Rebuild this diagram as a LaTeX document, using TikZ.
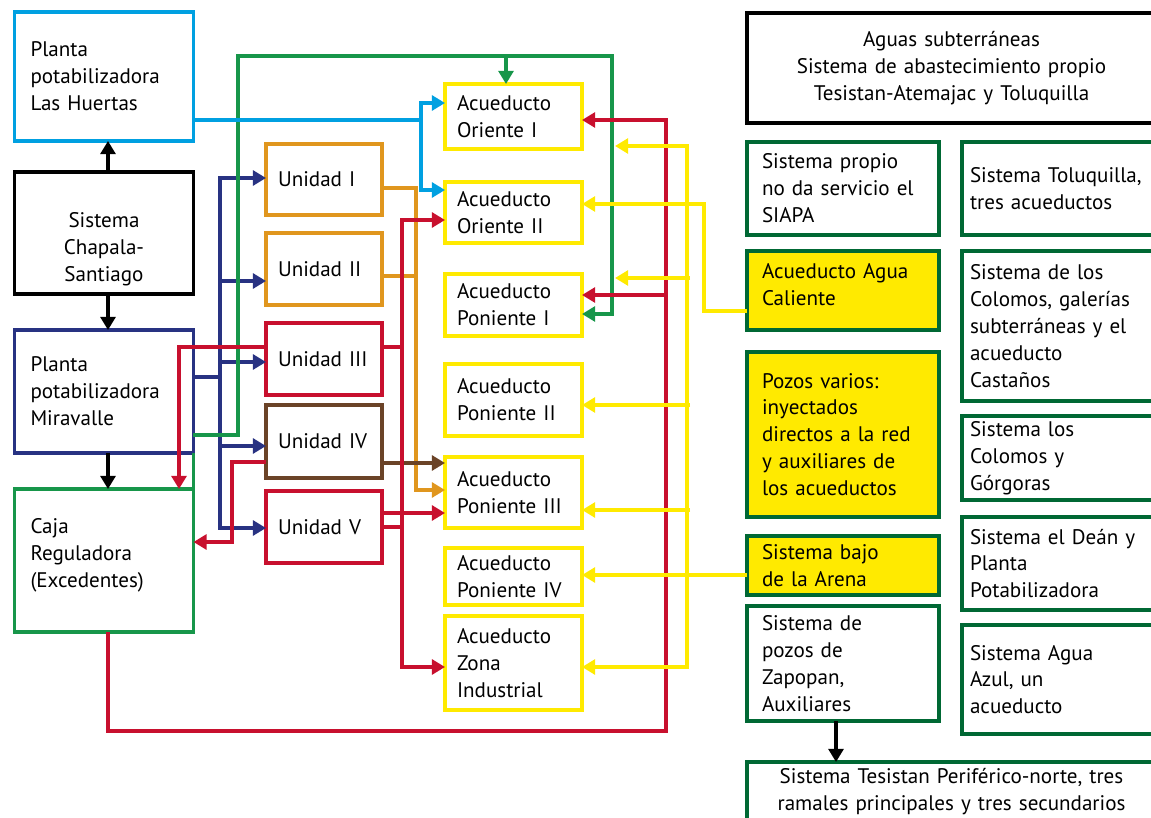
\documentclass[tikz,border=0pt]{standalone}
\usepackage{fontspec}
\setmainfont{PT Sans}
\usepackage{xcolor}
\usetikzlibrary{arrows.meta}

\definecolor{cyanH}{RGB}{0,160,225}
\definecolor{navyM}{RGB}{40,50,130}
\definecolor{greenC}{RGB}{23,150,74}
\definecolor{greenD}{RGB}{0,104,52}
\definecolor{orangeU}{RGB}{224,150,30}
\definecolor{redU}{RGB}{200,16,46}
\definecolor{brownU}{RGB}{107,67,39}
\definecolor{yellowA}{RGB}{255,234,0}

\tikzset{
  box/.style={draw, line width=2.2pt, fill=white, inner ysep=0pt, outer sep=0pt,
    align=left, font=\fontsize{12pt}{15.3pt}\selectfont},
  leftbox/.style={box, inner xsep=.32cm, text width=2.94cm, minimum height=#1},
  unitbox/.style={box, inner xsep=.24cm, text width=1.84cm, minimum height=#1},
  acuebox/.style={box, draw=yellowA, inner xsep=.24cm, text width=2.26cm, minimum height=#1},
  sysbox/.style={box, draw=greenD, inner xsep=.3cm, text width=3.24cm, minimum height=#1},
  sysboxr/.style={box, draw=greenD, inner xsep=.16cm, text width=3.64cm, minimum height=#1},
  widebox/.style={box, align=center, inner xsep=.3cm, text width=7.58cm, minimum height=#1},
  flow/.style={line width=2pt, -{Triangle[length=7.5pt,width=8.5pt]}},
  pipe/.style={line width=2pt},
}

\begin{document}
\begin{tikzpicture}[x=0.02cm, y=-0.02cm]
\useasboundingbox (0,0) rectangle (1151,817);

% plantas y caja
\node [leftbox=2.58cm, draw=cyanH] (huertas) at (104,76.5)
      {Planta\\potabilizadora\\Las Huertas};
\node [leftbox=2.44cm, draw=black, align=center] (chapala) at (104,233)
      {\mbox{}\\[11.5pt]Sistema\\Chapala-\\Santiago};
\node [leftbox=2.46cm, draw=navyM] (miravalle) at (104,391.5)
      {Planta\\potabilizadora\\Miravalle};
\node [leftbox=2.86cm, draw=greenC] (caja) at (104,560.5)
      {Caja\\Reguladora\\(Excedentes)\\[-6.6pt]\mbox{}};

% unidades
\node [unitbox=1.42cm, draw=orangeU] (u1) at (324,179.5) {Unidad I};
\node [unitbox=1.44cm, draw=orangeU] (u2) at (324,269) {Unidad II};
\node [unitbox=1.44cm, draw=redU] (u3) at (324,359) {Unidad III};
\node [unitbox=1.46cm, draw=brownU] (u4) at (324,441.5) {Unidad IV};
\node [unitbox=1.44cm, draw=redU] (u5) at (324,527) {Unidad V};

% acueductos
\node [acuebox=1.30cm] (oriente1) at (513.5,116.5) {Acueducto\\Oriente I};
\node [acuebox=1.22cm] (oriente2) at (513.5,212.5) {Acueducto\\Oriente II};
\node [acuebox=1.24cm] (poniente1) at (513.5,305) {Acueducto\\Poniente I};
\node [acuebox=1.44cm] (poniente2) at (513.5,400) {Acueducto\\Poniente II};
\node [acuebox=1.42cm] (poniente3) at (513.5,492.5) {Acueducto\\Poniente III};
\node [acuebox=1.14cm] (poniente4) at (513.5,576.5) {Acueducto\\Poniente IV};
\node [acuebox=1.88cm] (zona) at (513.5,663) {Acueducto\\Zona\\Industrial};

% aguas subterraneas
\node [widebox=2.2cm, draw=black] (aguas) at (951.5,68)
      {Aguas subterráneas\\Sistema de abastecimiento propio\\Tesistan-Atemajac y Toluquilla};
\node [sysbox=1.86cm] (propio) at (843,188.5) {Sistema propio\\no da servicio el\\SIAPA};
\node [sysbox=1.58cm, fill=yellowA] (caliente) at (843,290.5)
      {Acueducto Agua\\Caliente\\[-8.5pt]\mbox{}};
\node [sysbox=3.30cm, fill=yellowA] (pozos) at (843,434.5)
      {Pozos varios:\\inyectados\\directos a la red\\y auxiliares de\\los acueductos};
\node [sysbox=1.18cm, fill=yellowA] (arena) at (843,565.5) {Sistema bajo\\de la Arena};
\node [sysbox=2.30cm] (zapopan) at (843,663.5) {Sistema de\\pozos de\\Zapopan,\\Auxiliares};
\node [sysboxr=1.86cm] (toluquilla) at (1061,188.5) {Sistema Toluquilla,\\tres acueductos};
\node [sysboxr=3.0cm] (galerias) at (1061,326)
      {Sistema de los\\Colomos, galerías\\subterráneas y el\\acueducto\\Castaños};
\node [sysboxr=1.68cm] (gorgoras) at (1061,458) {Sistema los\\Colomos y\\Górgoras};
\node [sysboxr=1.86cm] (dean) at (1061,563.5) {Sistema el Deán y\\Planta\\Potabilizadora};
\node [sysboxr=2.18cm] (azul) at (1061,679.5) {Sistema Agua\\Azul, un\\acueducto};
\node [widebox=1.2cm, draw=greenD] (tesistan) at (951.5,792)
      {Sistema Tesistan Periférico-norte, tres\\ramales principales y tres secundarios};

% flechas negras
\draw [flow] (chapala.north -| 108,0) -- (huertas.south -| 108,0);
\draw [flow] (chapala.south -| 108,0) -- (miravalle.north -| 108,0);
\draw [flow] (miravalle.south -| 108,0) -- (caja.north -| 108,0);
\draw [flow] (zapopan.south -| 836,0) -- (tesistan.north -| 836,0);

% Miravalle a las unidades
\draw [flow, navyM] (miravalle.east |- 0,377) -| (220,178) -- (u1.west |- 0,178);
\draw [flow, navyM] (220,377) |- (u5.west |- 0,528);
\foreach \u/\y in {u2/281, u3/362, u4/446}
  \draw [flow, navyM] (220,\y) -- (\u.west |- 0,\y);

% caja reguladora
\draw [pipe, greenC] (caja.north east) -- (miravalle.south -| caja.north east);
\draw [flow, greenC] (miravalle.east |- 0,435) -| (238,56) -| (612,314)
      -- (poniente1.east |- 0,314);
\coordinate (gfork) at (506,56);
\draw [flow, greenC] (gfork) -- (oriente1.north -| 506,0);

% unidades a acueductos
\draw [flow, orangeU] (u1.east |- 0,188) -| (416,490) -- (poniente3.west |- 0,490);
\draw [pipe, orangeU] (u2.east |- 0,276) -- (416,276);
\draw [flow, brownU] (u4.east |- 0,463) -- (poniente3.west |- 0,463);

\draw [flow, redU] (u3.west |- 0,347) -| (caja.north -| 179,0);
\draw [flow, redU] (u3.east |- 0,347) -| (402,220) -- (oriente2.west |- 0,220);
\draw [flow, redU] (u5.east |- 0,527) -| (402,667) -- (zona.west |- 0,667);
\draw [pipe, redU] (402,347) -- (402,527);
\draw [flow, redU] (u5.east |- 0,513) -- (poniente3.west |- 0,513);
\draw [flow, redU] (u4.west |- 0,462) -| (232,542) -- (caja.east |- 0,542);
\draw [flow, redU] (caja.south -| 108,0) |- (666,731) |- (oriente1.east |- 0,120);
\draw [flow, redU] (666,295) -- (poniente1.east |- 0,295);

% Las Huertas
\draw [flow, cyanH] (huertas.east |- 0,120) -| (421,103) -- (oriente1.west |- 0,103);
\coordinate (cfork) at (421,120);
\draw [flow, cyanH] (cfork) |- (oriente2.west |- 0,190);

% pozos
\draw [flow, yellowA] (caliente.west |- 0,311) -| (704,204) -- (oriente2.east |- 0,204);
\draw [flow, yellowA] (arena.west |- 0,575) -- (poniente4.east |- 0,575);
\coordinate (ytip1) at (615,146);
\coordinate (ytip2) at (615,278);
\draw [flow, yellowA] (687,575) |- (ytip1);
\draw [flow, yellowA] (687,575) |- (zona.east |- 0,667);
\draw [flow, yellowA] (690,278) -- (ytip2);
\draw [flow, yellowA] (690,405) -- (poniente2.east |- 0,405);
\draw [flow, yellowA] (690,510) -- (poniente3.east |- 0,510);
\end{tikzpicture}
\end{document}
